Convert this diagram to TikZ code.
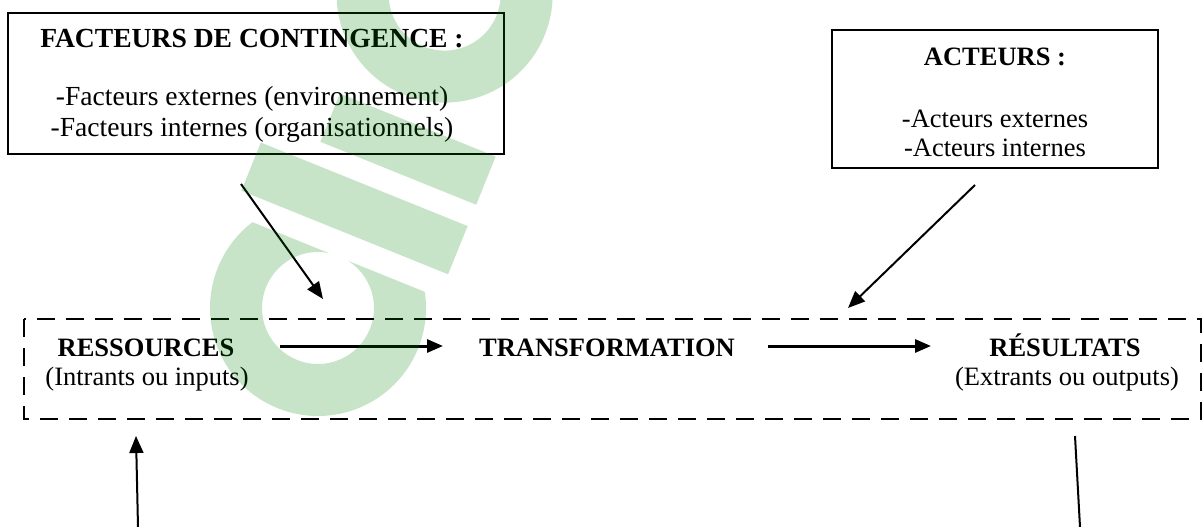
\documentclass[tikz,border=0pt]{standalone}
\usepackage{fontspec}
\setmainfont{Liberation Serif}
\usetikzlibrary{arrows.meta}
\definecolor{wmgreen}{RGB}{0,130,0}
\tikzset{
  frame/.style={draw=black, line width=2pt},
  dashframe/.style={draw=black, line width=2.8pt, dash pattern=on 18pt off 11pt},
  head/.style={font=\fontsize{26.5}{30}\selectfont\bfseries, anchor=base, inner sep=0pt},
  body/.style={font=\fontsize{26.5}{30}\selectfont, anchor=base, inner sep=0pt},
  bighead/.style={head, font=\fontsize{27.6}{30}\selectfont\bfseries},
  bigbody/.style={body, font=\fontsize{27.6}{30}\selectfont},
  flow/.style={line width=3pt, -{Triangle[length=16pt,width=13pt]}},
  link/.style={line width=2pt, -{Triangle[length=17pt,width=14pt]}},
  wm/.style={fill=wmgreen, fill opacity=0.216},
}
\begin{document}
\begin{tikzpicture}[x=1pt,y=-1pt]
\useasboundingbox (0,0) rectangle (1203,527);
\fill[white] (0,0) rectangle (1203,527);

% upper boxes
\draw[frame] (8,13) rectangle (504,154);
\node[bighead] (fct) at (252,48) {FACTEURS DE CONTINGENCE :};
\node[bigbody] (fct1) at (252,106) {-Facteurs externes (environnement)};
\node[bigbody] (fct2) at (252,136) {-Facteurs internes (organisationnels)};

\draw[frame] (832,30) rectangle (1158,168);
\node[head] (act) at (995,66) {ACTEURS :};
\node[body] (act1) at (995,127) {-Acteurs externes};
\node[body] (act2) at (995,157) {-Acteurs internes};

% process frame
\draw[dashframe] (24,319) rectangle (1201,419);
\node[head] (res) at (146,356) {RESSOURCES};
\node[body] (res1) at (147,385) {(Intrants ou inputs)};
\node[head] (tra) at (607,356) {TRANSFORMATION};
\node[head] (rsl) at (1065,356) {RÉSULTATS};
\node[body] (rsl1) at (1067,385) {(Extrants ou outputs)};

\coordinate (r1) at (280,346);
\coordinate (r2) at (443,346);
\coordinate (t1) at (768,346);
\coordinate (t2) at (931,346);
\draw[flow] (r1) -- (r2);
\draw[flow] (t1) -- (t2);

\coordinate (fa) at (241,184);
\coordinate (fb) at (323,299);
\draw[link] (fa) -- (fb);
\coordinate (aa) at (975,185);
\coordinate (ab) at (848,308);
\draw[link] (aa) -- (ab);

\coordinate (ba) at (138,527);
\coordinate (bb) at (136,436);
\draw[link] (ba) -- (bb);
\coordinate (ca) at (1075,436);
\coordinate (cb) at (1080,527);
\draw[line width=2pt] (ca) -- (cb);

% translucent logo laid over the page
\begin{scope}[shift={(318,308)}, rotate=68]
  \begin{scope}
    \clip (-130,-130) rectangle (55,130);
    \fill[wm, even odd rule] (0,0) circle[radius=108] (0,0) circle[radius=56];
  \end{scope}
  \fill[wm] (80,-115) rectangle (132,108);
  \fill[wm] (155,-60) rectangle (207,108);
  \begin{scope}
    \clip (220,-130) rectangle (393,130);
    \fill[wm, even odd rule] (338,0) circle[radius=108] (338,0) circle[radius=56];
  \end{scope}
\end{scope}
\end{tikzpicture}
\end{document}
